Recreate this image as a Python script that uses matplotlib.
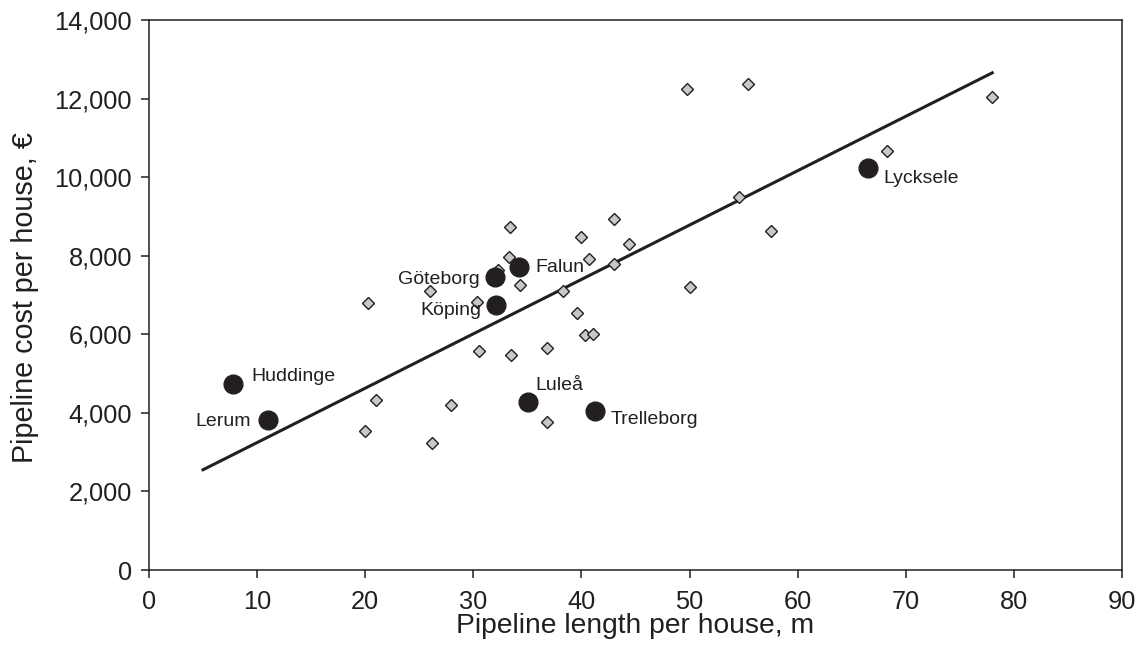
import matplotlib
matplotlib.use("Agg")
import matplotlib.pyplot as plt
from matplotlib.ticker import FuncFormatter
import numpy as np

plt.rcParams['font.family'] = ['Liberation Sans', 'DejaVu Sans']

# Other municipalities (grey diamonds)
other_length = [49.8, 55.4, 78.0, 68.3, 54.6, 57.5, 33.4, 43.0, 40.0, 44.4, 33.3, 40.7,
                43.0, 32.3, 34.3, 26.0, 38.3, 50.0, 30.3, 20.3, 39.6, 40.3, 41.1, 30.5,
                33.5, 36.8, 21.0, 27.9, 20.0, 26.2, 36.8]
other_cost = [12250, 12380, 12050, 10670, 9490, 8630, 8740, 8930, 8470, 8290, 7970, 7920,
              7790, 7640, 7250, 7100, 7110, 7210, 6830, 6790, 6550, 5980, 6010, 5580,
              5470, 5640, 4330, 4190, 3550, 3230, 3775]

# Named municipalities (black circles)
towns = ['Huddinge', 'Lerum', 'Göteborg', 'Köping', 'Falun', 'Luleå', 'Trelleborg', 'Lycksele']
town_length = [7.8, 11.0, 32.0, 32.1, 34.2, 35.1, 41.3, 66.5]
town_cost = [4730, 3820, 7470, 6745, 7700, 4270, 4050, 10240]

# Regression line (x range and coefficients)
fit_x = [5.0, 78.0]
fit_intercept = 1860
fit_slope = 138.4

x_ticks = [0, 10, 20, 30, 40, 50, 60, 70, 80, 90]
y_ticks = [0, 2000, 4000, 6000, 8000, 10000, 12000, 14000]

dark = '#231f20'

fig = plt.figure(figsize=(11.37, 6.54), dpi=100)
ax = fig.add_axes([149/1137, 84/654, (1122-149)/1137, (570-20)/654])

fx = np.array(fit_x)
ax.plot(fx, fit_intercept + fit_slope * fx, color=dark, lw=2.2, zorder=2)

ax.plot(other_length, other_cost, linestyle='none', marker='D', markersize=5.9,
        markerfacecolor='#c8c8c8', markeredgecolor=dark, markeredgewidth=1.0, zorder=3)
ax.plot(town_length, town_cost, linestyle='none', marker='o', markersize=13.5,
        markerfacecolor=dark, markeredgecolor=dark, zorder=4)

label_offsets = {
    'Huddinge': (13.2, 2.6, 'left'),
    'Lerum': (-12.0, -4.3, 'right'),
    'Göteborg': (-10.8, -5.5, 'right'),
    'Köping': (-10.8, -7.2, 'right'),
    'Falun': (12.0, -3.6, 'left'),
    'Luleå': (4.8, 8.9, 'left'),
    'Trelleborg': (10.8, -9.6, 'left'),
    'Lycksele': (11.2, -11.3, 'left'),
}
for name, lx, ly in zip(towns, town_length, town_cost):
    dx, dy, ha = label_offsets[name]
    ax.annotate(name, (lx, ly), xytext=(dx, dy), textcoords='offset points',
                ha=ha, va='baseline', fontsize=14, color=dark, zorder=5)

ax.set_xlim(0, 90)
ax.set_ylim(0, 14000)
ax.set_xticks(x_ticks)
ax.set_yticks(y_ticks)
ax.yaxis.set_major_formatter(FuncFormatter(lambda v, p: f'{int(v):,}'))
ax.tick_params(direction='out', length=5.8, width=1.1, colors=dark, labelsize=18.3)
ax.tick_params(axis='x', pad=8.5)
ax.tick_params(axis='y', pad=6.5)
for s in ax.spines.values():
    s.set_linewidth(1.1)
    s.set_color(dark)

ax.set_xlabel('Pipeline length per house, m', fontsize=20.3, color=dark)
ax.set_ylabel('Pipeline cost per house, €', fontsize=20.7, color=dark)
ax.xaxis.label.set_verticalalignment('baseline')
ax.xaxis.set_label_coords(0.5, -(633 - 570) / 550)
ax.yaxis.set_label_coords(-(149 - 39) / 973, (570 - 298) / 550)

fig.savefig('out.png', dpi=100)
